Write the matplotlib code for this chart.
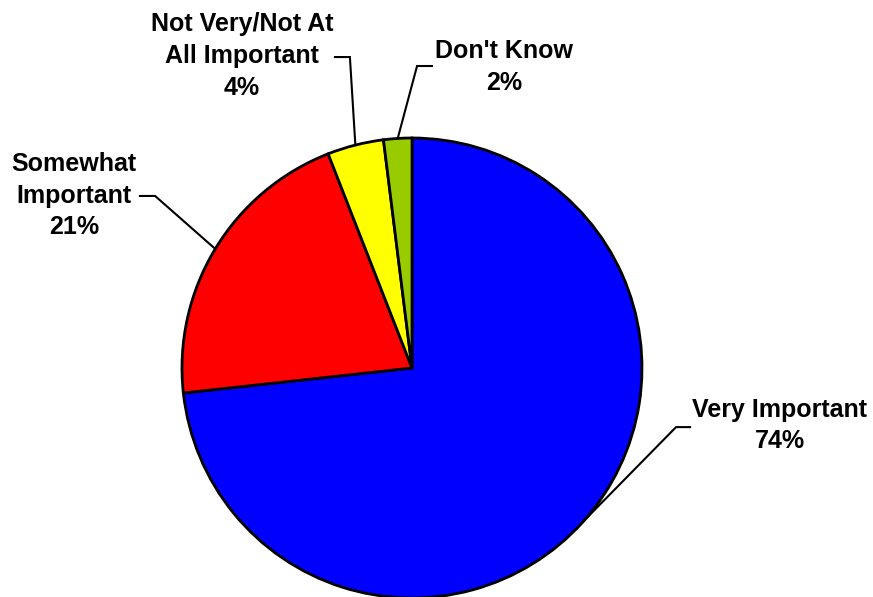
import numpy as np
import matplotlib
matplotlib.use("Agg")
import matplotlib.pyplot as plt

# Survey answer shares (%)
labels = ["Very Important", "Somewhat\nImportant", "Not Very/Not At\nAll Important", "Don't Know"]
values = [74, 21, 4, 2]
colors = ["#0000FF", "#FF0000", "#FFFF00", "#99CC00"]

# label block centre and leader elbow (data units, pie radius = 1)
text_pos = [(1.60, -0.25), (-1.47, 0.75), (-0.74, 1.355), (0.40, 1.31)]
elbow_start = [(1.209, -0.257), (-1.183, 0.748), (-0.335, 1.352), (0.087, 1.313)]
elbow_end = [(1.148, -0.257), (-1.117, 0.748), (-0.270, 1.352), (0.022, 1.313)]

plt.rcParams["font.family"] = ["Liberation Sans", "DejaVu Sans"]

fig = plt.figure(figsize=(8.73, 5.97), dpi=100)
ax = fig.add_axes([0, 0, 1, 1])

wedges, _ = ax.pie(values, colors=colors, startangle=90, counterclock=False,
                   radius=1.0, wedgeprops=dict(edgecolor="black", linewidth=2))

for w, lab, v, tp, es, ee in zip(wedges, labels, values, text_pos, elbow_start, elbow_end):
    mid = np.deg2rad((w.theta1 + w.theta2) / 2)
    px, py = np.cos(mid), np.sin(mid)
    ax.plot([es[0], ee[0], px], [es[1], ee[1], py], color="black", lw=1.5,
            solid_joinstyle="miter")
    ax.text(tp[0], tp[1], f"{lab}\n{v}%", ha="center", va="center",
            fontsize=18, fontweight="bold", linespacing=1.42)

ax.set_xlim(-412 / 230, (873 - 412) / 230)
ax.set_ylim(-(597 - 368) / 230, 368 / 230)
ax.set_aspect("equal")
ax.axis("off")

plt.savefig("out.png", dpi=100, facecolor="white")
plt.close()
